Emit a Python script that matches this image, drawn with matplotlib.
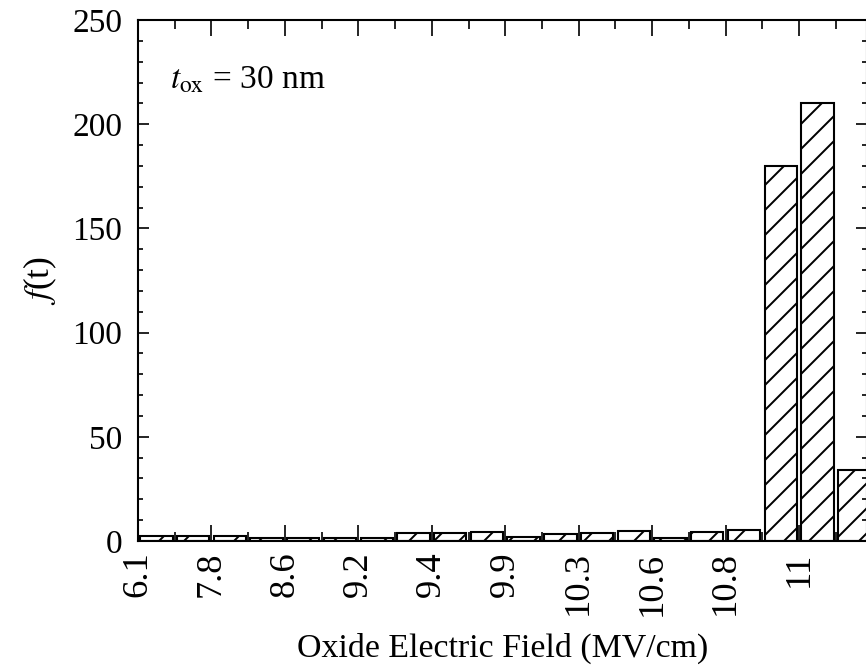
import numpy as np
import matplotlib
matplotlib.use('Agg')
import matplotlib.pyplot as plt
from matplotlib.ticker import MultipleLocator

# 데이터: 막대 20개 (마지막 막대는 그림 오른쪽에서 잘림)
counts = [2.2, 2.2, 2.2, 1.5, 1.2, 1.2, 1.5, 4, 4, 4.2,
          2, 3.2, 3.8, 4.6, 1.6, 4.4, 5.4, 180, 210, 34]
field_labels = ['6.1', '7.8', '8.6', '9.2', '9.4', '9.9', '10.3', '10.6', '10.8', '11']
annot = r'$t_{\rm ox}$ = 30 nm'

DPI = 75
plt.rcParams['font.family'] = ['Liberation Serif', 'DejaVu Serif']
plt.rcParams['mathtext.fontset'] = 'stix'
plt.rcParams['hatch.linewidth'] = 1.9
plt.rcParams['hatch.color'] = 'black'

fig = plt.figure(figsize=(866 / DPI, 665 / DPI), dpi=DPI)
ax = fig.add_axes([138 / 866, 124 / 665, 729 / 866, 521 / 665])

x = np.arange(len(counts)) + 0.5
ax.bar(x, counts, width=0.88, facecolor='white', edgecolor='black',
       linewidth=2.0, hatch='/')

ax.set_xlim(0, 19.85)
ax.set_ylim(0, 250)

# 눈금
ax.set_xticks(np.arange(0, 2 * len(field_labels), 2))
ax.set_xticklabels(field_labels, rotation=90)
ax.xaxis.set_minor_locator(MultipleLocator(1))
ax.set_yticks([0, 50, 100, 150, 200, 250])
ax.yaxis.set_minor_locator(MultipleLocator(10))

ax.tick_params(axis='both', which='both', direction='in', top=True, right=True,
               width=1.6)
ax.tick_params(axis='x', which='major', length=15, pad=10, labelsize=35)
ax.tick_params(axis='x', which='minor', length=9)
ax.tick_params(axis='y', which='major', length=10.5, pad=15, labelsize=32)
ax.tick_params(axis='y', which='minor', length=5)

for sp in ax.spines.values():
    sp.set_linewidth(2.0)

ax.set_xlabel('Oxide Electric Field (MV/cm)', fontsize=32.5)
ax.xaxis.label.set_va('center')
ax.xaxis.set_label_coords(0.5, -0.206)
ax.set_ylabel(r'$f$(t)', fontsize=34)
ax.yaxis.label.set_va('center')
ax.yaxis.set_label_coords(-0.134, 0.5)

ax.text(0.044, 0.885, annot, transform=ax.transAxes, fontsize=32,
        ha='left', va='center')

fig.savefig('out.png', dpi=DPI)
